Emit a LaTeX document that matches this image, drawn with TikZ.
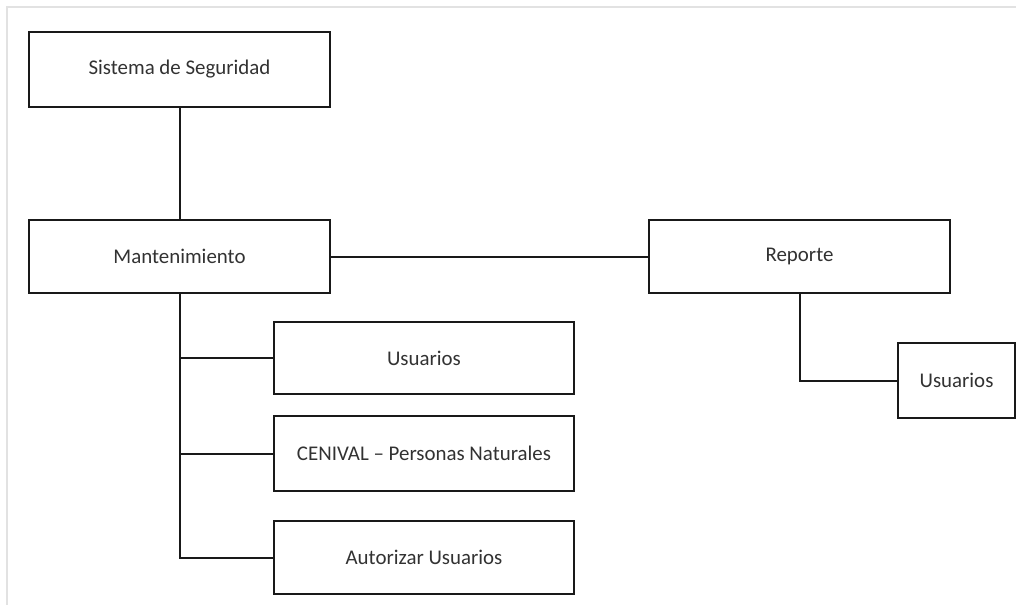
\documentclass[tikz,border=0pt]{standalone}
\usepackage{fontspec}
\setmainfont{Carlito}
\definecolor{framegray}{RGB}{226,226,226}
\definecolor{txt}{RGB}{50,50,50}
\begin{document}
\begin{tikzpicture}[x=1pt,y=-1pt,
  box/.style={draw=black!90,line width=2pt,fill=white,inner sep=0pt,
    minimum width=#1,text=txt,font=\fontsize{20.9}{25}\selectfont},
  link/.style={draw=black!90,line width=2pt}]
\useasboundingbox (0,0) rectangle (1016,605);
\fill[white] (0,0) rectangle (1016,605);
\draw[framegray,line width=2.5pt] (7,605) -- (7,7) -- (1016,7);

\node[box=301pt,minimum height=75pt] (sis) at (179.5,69.5) {Sistema de Seguridad};
\node[box=301pt,minimum height=73pt] (man) at (179.5,256.5) {Mantenimiento};
\node[box=301pt,minimum height=73pt] (rep) at (799.5,256.5) {Reporte};
\node[box=300pt,minimum height=72pt] (u1) at (424,358) {Usuarios};
\node[box=300pt,minimum height=75pt] (cen) at (424,453.5) {CENIVAL – Personas Naturales};
\node[box=300pt,minimum height=73pt] (aut) at (424,557.5) {Autorizar Usuarios};
\node[box=117pt,minimum height=75pt] (u2) at (956.5,380.5) {Usuarios};

\draw[link] (sis.south) -- (man.north);
\draw[link] (man.east) -- (rep.west);
\draw[link] (man.south) |- (u1.west);
\draw[link] (man.south) |- (cen.west);
\draw[link] (man.south) |- (aut.west);
\draw[link] (rep.south) |- (u2.west);
\end{tikzpicture}
\end{document}
